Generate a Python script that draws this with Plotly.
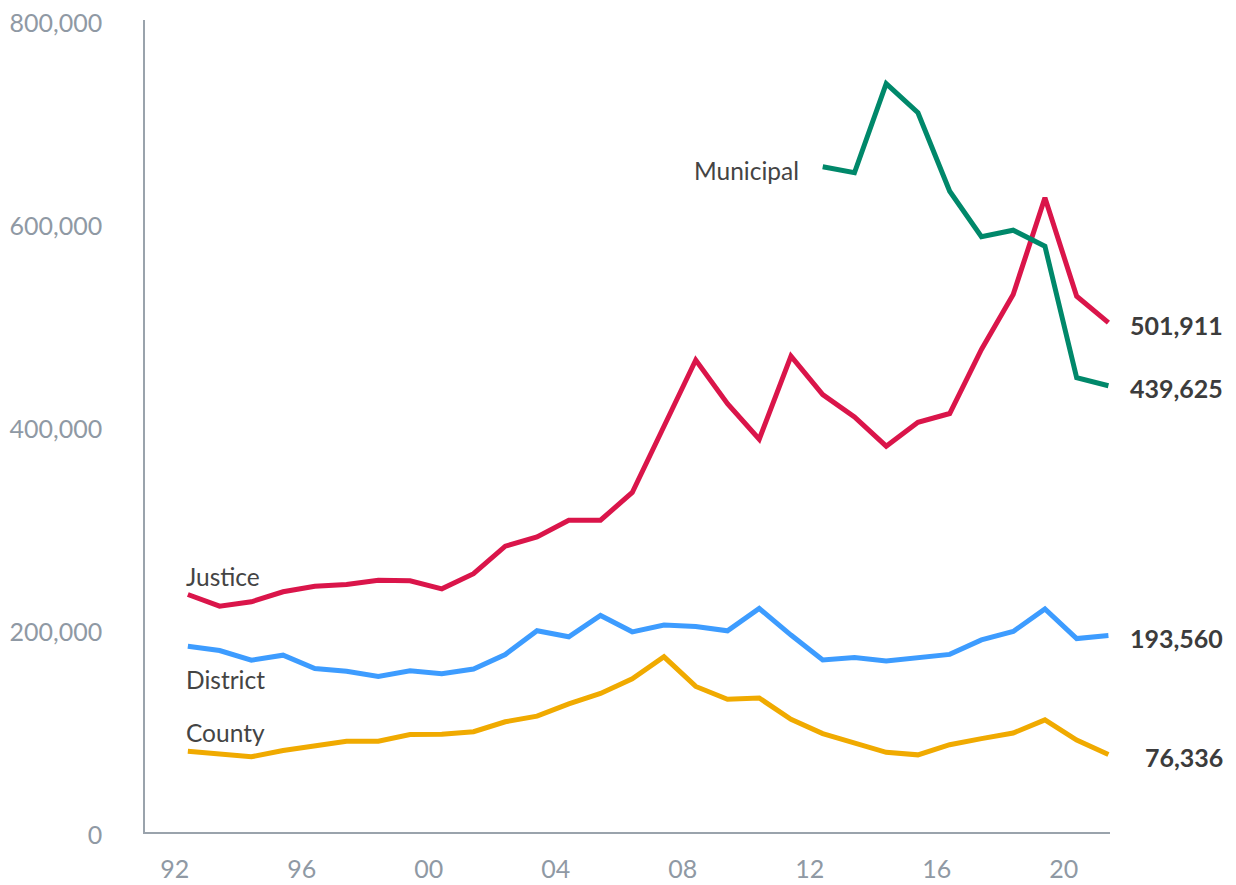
import plotly.graph_objects as go

years = list(range(1992, 2022))
justice = [234000, 222500, 226800, 236700, 242200, 243800, 248000, 247500, 239600, 254500,
           281600, 290800, 307200, 307200, 334500, 399800, 465000, 422000, 387000, 468800,
           431000, 409000, 380100, 403700, 412300, 475400, 529600, 624800, 527900, 501911]
district = [183000, 178800, 169300, 174200, 161000, 158400, 153200, 158800, 155900, 160500,
            174900, 198300, 192300, 213300, 197200, 204000, 202400, 198200, 220200, 194000,
            169500, 171800, 168500, 171800, 175000, 189300, 197500, 219800, 190600, 193560]
county = [79600, 76400, 74100, 80300, 85000, 89500, 89500, 96100, 96400, 98800,
          108600, 114100, 126300, 136500, 151000, 172600, 143400, 130800, 132000, 111000,
          97000, 87500, 78500, 76000, 86000, 92000, 97500, 110500, 90500, 76336]
municipal_years = list(range(2012, 2022))
municipal = [655400, 649500, 737400, 708600, 631300, 586400, 592900, 577100, 447500, 439625]

x_tick_vals = [1992, 1996, 2000, 2004, 2008, 2012, 2016, 2020]
x_tick_text = ["92", "96", "00", "04", "08", "12", "16", "20"]
y_tick_vals = [0, 200000, 400000, 600000, 800000]

RED = "#DA154A"
BLUE = "#3D9CFF"
GOLD = "#F0AA00"
GREEN = "#00886A"
LABEL = "#444444"
END = "#3C3C3C"
TICK = "#8F99A4"
AXIS = "#9AA3AC"
FONT = "Lato"

fig = go.Figure()
for name, xs, ys, col in [
    ("County", years, county, GOLD),
    ("District", years, district, BLUE),
    ("Justice", years, justice, RED),
    ("Municipal", municipal_years, municipal, GREEN),
]:
    fig.add_trace(go.Scatter(x=xs, y=ys, mode="lines", name=name,
                             line=dict(color=col, width=5), hoverinfo="x+y"))

# series name labels
fig.add_annotation(x=1992, y=251500, text="Justice", xanchor="left", yanchor="middle",
                   showarrow=False, font=dict(family=FONT, size=24.5, color=LABEL), xshift=-4)
fig.add_annotation(x=1992, y=150000, text="District", xanchor="left", yanchor="middle",
                   showarrow=False, font=dict(family=FONT, size=24.5, color=LABEL), xshift=-4)
fig.add_annotation(x=1992, y=98000, text="County", xanchor="left", yanchor="middle",
                   showarrow=False, font=dict(family=FONT, size=24.5, color=LABEL), xshift=-4)
fig.add_annotation(x=municipal_years[0], y=municipal[0], text="Municipal", xanchor="right",
                   yanchor="middle", showarrow=False, xshift=-22, yshift=-4,
                   font=dict(family=FONT, size=24.5, color=LABEL))

# end value labels
for xs, ys in [(years, justice), (municipal_years, municipal), (years, district), (years, county)]:
    fig.add_annotation(x=xs[-1], y=ys[-1], text=f"<b>{ys[-1]:,}</b>", xanchor="right",
                       yanchor="middle", showarrow=False, xshift=117, yshift=-2,
                       font=dict(family=FONT, size=25, color=END))

# page body has an 8px margin; compensate so the plot area lands where the reference has it
fig.update_layout(
    width=1228, height=877,
    margin=dict(l=137, r=126, t=12, b=53, autoexpand=False),
    plot_bgcolor="white", paper_bgcolor="white",
    showlegend=False,
    font=dict(family=FONT),
)
fig.update_xaxes(range=[1990.65, 2021.05], tickvals=x_tick_vals, ticktext=x_tick_text,
                 showgrid=False, zeroline=False, showline=True, linecolor=AXIS, linewidth=1.5,
                 ticks="", ticklabelstandoff=14, ticklabelshift=-13, automargin=False,
                 ticklabeloverflow="allow",
                 tickfont=dict(family=FONT, size=25, color=TICK))
fig.update_yaxes(range=[0, 800000], tickvals=y_tick_vals, tickformat=",",
                 showgrid=False, zeroline=False, showline=True, linecolor=AXIS, linewidth=1.5,
                 ticks="", ticklabelstandoff=36, ticklabelshift=3, automargin=False,
                 ticklabeloverflow="allow",
                 tickfont=dict(family=FONT, size=25, color=TICK))

fig.write_html("out.html")
